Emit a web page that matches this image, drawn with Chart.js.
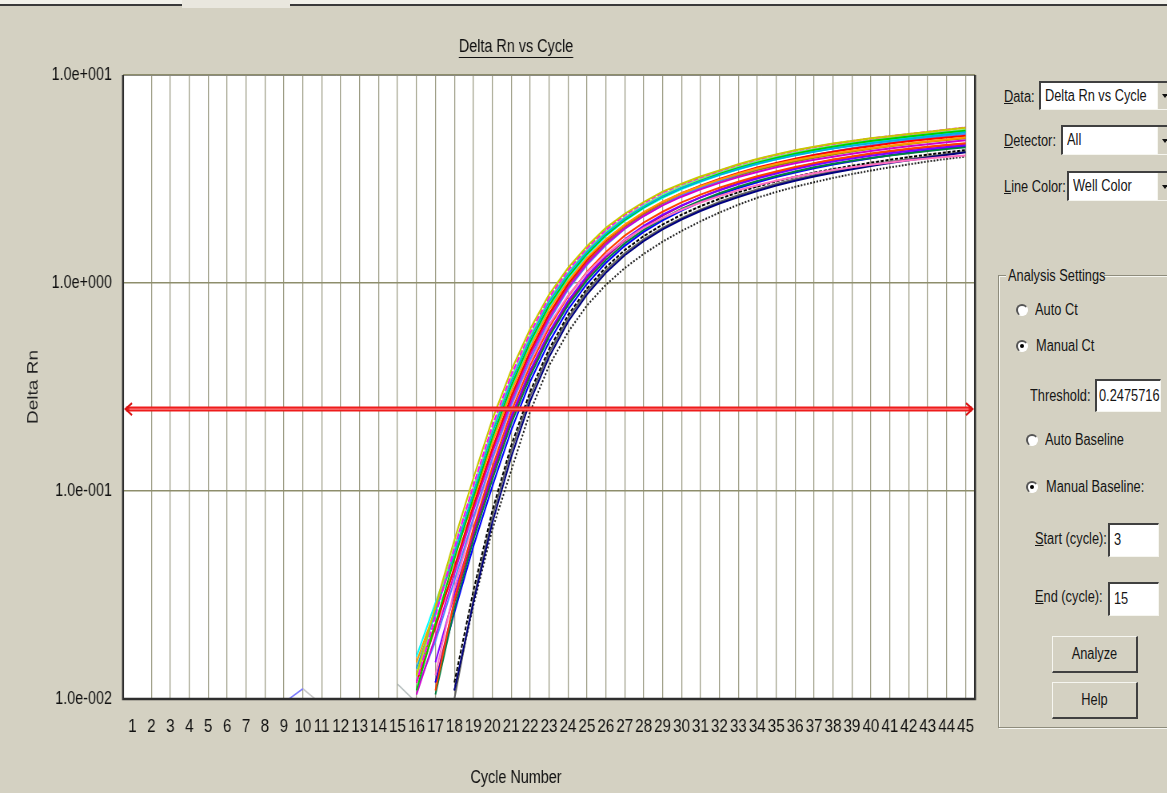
<!DOCTYPE html>
<html>
<head>
<meta charset="utf-8">
<title>Delta Rn vs Cycle</title>
<script src="https://cdn.jsdelivr.net/npm/chart.js@4.4.1/dist/chart.umd.min.js"></script>
<style>
    html, body { margin: 0; padding: 0; }
    body {
        width: 1167px; height: 793px; position: relative; overflow: hidden;
        background: #d4d1c2;
        font-family: "Liberation Sans", Arial, sans-serif;
        color: #151515;
    }
    #topbar { position: absolute; left: 0; top: 0; width: 1167px; height: 4px; background: #f2f1ea; border-bottom: 2px solid #3a3a3a; }
    #tab { position: absolute; left: 182px; top: 0; width: 108px; height: 8px; background: #e9e7de; }
    #chart { position: absolute; left: 0; top: 0; }
    .n { display: inline-block; transform: scaleX(0.8); transform-origin: 0 50%; }
    .txt { position: absolute; font-size: 16px; line-height: 18px; white-space: nowrap; }
    .txt u { text-decoration: underline; }
    .field {
        position: absolute; background: #fff; box-sizing: border-box; overflow: hidden;
        border-top: 2px solid #404040; border-left: 2px solid #404040;
        border-bottom: 1px solid #f6f6f0; border-right: 1px solid #f6f6f0;
        font-size: 16px; padding-left: 4px; white-space: nowrap;
    }
    .drop {
        position: absolute; left: 1157px; width: 14px; background: #d4d1c2;
        border-left: 1px solid #f6f6f0; box-sizing: border-box;
    }
    .drop::after {
        content: ""; position: absolute; left: 4px; top: 50%; margin-top: -2px;
        border-left: 3px solid transparent; border-right: 3px solid transparent; border-top: 4px solid #111;
    }
    .radio {
        position: absolute; width: 12px; height: 12px; border-radius: 50%; background: #fff; box-sizing: border-box;
        border-top: 2px solid #555; border-left: 2px solid #555; border-bottom: 1px solid #fff; border-right: 1px solid #fff;
    }
    .radio.on::after {
        content: ""; position: absolute; left: 2px; top: 2px; width: 4px; height: 4px; border-radius: 50%; background: #000;
    }
    #group {
        position: absolute; left: 998px; top: 275px; width: 200px; height: 453px; box-sizing: border-box;
        border: 1px solid #8e8c7c; box-shadow: inset 1px 1px 0 #f6f6f0, 1px 1px 0 #f6f6f0;
    }
    .btn {
        position: absolute; left: 1052px; width: 86px; height: 37px; box-sizing: border-box; text-align: center;
        border-top: 1px solid #f6f6f0; border-left: 1px solid #f6f6f0;
        border-bottom: 2px solid #404040; border-right: 2px solid #404040;
        font-size: 16px; line-height: 33px;
    }
    .btn .n { transform-origin: 50% 50%; }
</style>
</head>
<body>
<div id="topbar"></div>
<div id="tab"></div>
<!-- el lienzo se dibuja a 1238 px y se muestra comprimido a 990 px, como la captura original -->
<canvas id="chart" width="1238" height="793" style="width:990px; height:793px;"></canvas>

<!-- ====== PANEL DERECHO ====== -->
<div class="txt" style="left:1004px; top:88px;"><span class="n"><u>D</u>ata:</span></div>
<div class="field" style="left:1039px; top:81px; width:140px; height:29px; line-height:25px;"><span class="n">Delta Rn vs Cycle</span></div>
<div class="drop" style="top:83px; height:26px;"></div>

<div class="txt" style="left:1004px; top:132px;"><span class="n"><u>D</u>etector:</span></div>
<div class="field" style="left:1061px; top:125px; width:120px; height:30px; line-height:26px;"><span class="n">All</span></div>
<div class="drop" style="top:127px; height:27px;"></div>

<div class="txt" style="left:1004px; top:178px;"><span class="n"><u>L</u>ine Color:</span></div>
<div class="field" style="left:1067px; top:171px; width:120px; height:30px; line-height:26px;"><span class="n">Well Color</span></div>
<div class="drop" style="top:173px; height:27px;"></div>

<div id="group"></div>
<div class="txt" style="left:1006px; top:267px; width:98px; background:#d4d1c2;"><span class="n" style="margin-left:2px;">Analysis Settings</span></div>

<div class="radio" style="left:1016px; top:304px;"></div>
<div class="txt" style="left:1035px; top:301px;"><span class="n">Auto Ct</span></div>
<div class="radio on" style="left:1016px; top:340px;"></div>
<div class="txt" style="left:1036px; top:337px;"><span class="n">Manual Ct</span></div>

<div class="txt" style="left:1030px; top:387px;"><span class="n">Threshold:</span></div>
<div class="field" style="left:1095px; top:379px; width:66px; height:33px; line-height:29px; padding-left:2px;"><span class="n">0.2475716</span></div>

<div class="radio" style="left:1026px; top:434px;"></div>
<div class="txt" style="left:1045px; top:431px;"><span class="n">Auto Baseline</span></div>
<div class="radio on" style="left:1026px; top:481px;"></div>
<div class="txt" style="left:1046px; top:478px;"><span class="n">Manual Baseline:</span></div>

<div class="txt" style="left:1035px; top:530px;"><span class="n"><u>S</u>tart (cycle):</span></div>
<div class="field" style="left:1108px; top:523px; width:51px; height:34px; line-height:30px;"><span class="n">3</span></div>
<div class="txt" style="left:1035px; top:588px;"><span class="n"><u>E</u>nd (cycle):</span></div>
<div class="field" style="left:1108px; top:582px; width:51px; height:34px; line-height:30px;"><span class="n">15</span></div>

<div class="btn" style="top:636px;"><span class="n">Analyze</span></div>
<div class="btn" style="top:682px;"><span class="n">Help</span></div>

<script>
// ====== DATOS ======
const cycles = [1, 2, 3, 4, 5, 6, 7, 8, 9, 10, 11, 12, 13, 14, 15, 16, 17, 18, 19, 20, 21, 22, 23,
    24, 25, 26, 27, 28, 29, 30, 31, 32, 33, 34, 35, 36, 37, 38, 39, 40, 41, 42, 43, 44, 45];

const yTicks = [0.01, 0.1, 1, 10];
const yTickLabels = ["1.0e-002", "1.0e-001", "1.0e+000", "1.0e+001"];

const threshold = 0.2475716;

// valores de Delta Rn por pocillo, ciclos 16 a 45 (null = no dibujado)
const firstCycle = 16;
const well01 = [0.013, 0.028, 0.058, 0.115, 0.22, 0.38, 0.60, 0.88, 1.18, 1.50, 1.84, 2.15, 2.45, 2.75, 3.00,
    3.25, 3.48, 3.72, 3.95, 4.15, 4.35, 4.52, 4.68, 4.82, 4.96, 5.08, 5.20, 5.32, 5.45, 5.58];
const well02 = [0.012, 0.025, 0.053, 0.106, 0.205, 0.36, 0.575, 0.85, 1.15, 1.47, 1.80, 2.12, 2.42, 2.72, 2.98,
    3.22, 3.46, 3.70, 3.93, 4.13, 4.33, 4.50, 4.66, 4.81, 4.95, 5.08, 5.20, 5.33, 5.46, 5.60];
const well03 = [0.014, 0.026, 0.050, 0.098, 0.19, 0.335, 0.54, 0.81, 1.10, 1.41, 1.73, 2.04, 2.33, 2.61, 2.86,
    3.09, 3.31, 3.53, 3.74, 3.93, 4.11, 4.28, 4.43, 4.57, 4.70, 4.82, 4.94, 5.06, 5.18, 5.30];
const well04 = [0.011, 0.023, 0.047, 0.093, 0.18, 0.32, 0.52, 0.78, 1.07, 1.38, 1.70, 2.01, 2.31, 2.60, 2.86,
    3.10, 3.34, 3.57, 3.79, 3.99, 4.18, 4.36, 4.52, 4.67, 4.81, 4.94, 5.06, 5.18, 5.29, 5.40];
const well05 = [0.015, 0.027, 0.048, 0.09, 0.17, 0.30, 0.49, 0.74, 1.02, 1.32, 1.62, 1.91, 2.19, 2.46, 2.70,
    2.92, 3.14, 3.35, 3.55, 3.73, 3.90, 4.05, 4.19, 4.32, 4.45, 4.57, 4.68, 4.79, 4.90, 5.00];
const well06 = [0.012, 0.022, 0.043, 0.085, 0.16, 0.285, 0.47, 0.71, 0.99, 1.29, 1.60, 1.90, 2.18, 2.45, 2.70,
    2.94, 3.16, 3.38, 3.59, 3.78, 3.96, 4.13, 4.28, 4.42, 4.55, 4.68, 4.80, 4.91, 5.01, 5.10];
const well07 = [0.0105, 0.02, 0.04, 0.08, 0.152, 0.27, 0.45, 0.68, 0.95, 1.24, 1.54, 1.83, 2.10, 2.36, 2.60,
    2.82, 3.03, 3.23, 3.42, 3.60, 3.76, 3.91, 4.05, 4.18, 4.31, 4.43, 4.54, 4.65, 4.75, 4.85];
const well08 = [0.011, 0.019, 0.037, 0.074, 0.143, 0.26, 0.43, 0.66, 0.93, 1.22, 1.52, 1.82, 2.10, 2.37, 2.63,
    2.87, 3.10, 3.33, 3.55, 3.75, 3.94, 4.12, 4.29, 4.45, 4.60, 4.73, 4.86, 4.98, 5.09, 5.20];
const well09 = [null, 0.013, 0.034, 0.072, 0.14, 0.255, 0.42, 0.63, 0.87, 1.12, 1.37, 1.61, 1.84, 2.05, 2.25,
    2.44, 2.62, 2.79, 2.95, 3.10, 3.24, 3.37, 3.49, 3.60, 3.70, 3.80, 3.89, 3.97, 4.04, 4.10];
const well10 = [null, 0.011, 0.03, 0.066, 0.13, 0.24, 0.40, 0.61, 0.86, 1.13, 1.41, 1.69, 1.95, 2.20, 2.44,
    2.66, 2.87, 3.07, 3.26, 3.44, 3.61, 3.77, 3.92, 4.06, 4.19, 4.31, 4.42, 4.52, 4.61, 4.70];
const well11 = [null, 0.015, 0.032, 0.064, 0.124, 0.228, 0.38, 0.58, 0.82, 1.08, 1.35, 1.62, 1.88, 2.13, 2.36,
    2.58, 2.79, 2.99, 3.18, 3.36, 3.53, 3.69, 3.84, 3.97, 4.09, 4.20, 4.31, 4.41, 4.51, 4.60];
const well12 = [null, 0.0105, 0.027, 0.058, 0.113, 0.21, 0.355, 0.55, 0.78, 1.03, 1.29, 1.55, 1.80, 2.04, 2.27,
    2.49, 2.70, 2.90, 3.09, 3.27, 3.44, 3.60, 3.74, 3.87, 3.99, 4.10, 4.21, 4.31, 4.41, 4.50];
const well13 = [null, 0.012, 0.026, 0.054, 0.105, 0.195, 0.335, 0.52, 0.745, 0.99, 1.25, 1.51, 1.76, 2.00, 2.23,
    2.45, 2.66, 2.86, 3.05, 3.23, 3.40, 3.56, 3.71, 3.85, 3.98, 4.11, 4.23, 4.34, 4.45, 4.55];
const well14 = [null, null, 0.012, 0.033, 0.08, 0.165, 0.30, 0.48, 0.70, 0.94, 1.19, 1.44, 1.68, 1.91, 2.13,
    2.34, 2.54, 2.73, 2.91, 3.08, 3.24, 3.39, 3.53, 3.66, 3.79, 3.91, 4.03, 4.14, 4.25, 4.35];
const well15 = [null, null, 0.011, 0.029, 0.07, 0.145, 0.27, 0.44, 0.65, 0.88, 1.12, 1.36, 1.59, 1.81, 2.02,
    2.22, 2.41, 2.59, 2.77, 2.94, 3.10, 3.25, 3.39, 3.52, 3.65, 3.77, 3.89, 4.01, 4.13, 4.25];
const well16 = [null, null, 0.011, 0.028, 0.065, 0.125, 0.24, 0.40, 0.58, 0.78, 0.98, 1.18, 1.38, 1.58, 1.78,
    1.98, 2.18, 2.38, 2.57, 2.74, 2.90, 3.05, 3.20, 3.34, 3.47, 3.60, 3.72, 3.84, 3.95, 4.05];
const well17 = [0.0125, 0.027, 0.054, 0.104, 0.198, 0.35, 0.56, 0.83, 1.12, 1.44, 1.76, 2.07, 2.37, 2.66, 2.92,
    3.17, 3.40, 3.63, 3.85, 4.05, 4.24, 4.41, 4.57, 4.72, 4.86, 4.99, 5.11, 5.23, 5.34, 5.45];
const well18 = [0.016, 0.029, 0.051, 0.094, 0.176, 0.31, 0.505, 0.76, 1.05, 1.36, 1.68, 1.99, 2.29, 2.57, 2.83,
    3.07, 3.30, 3.52, 3.73, 3.93, 4.12, 4.29, 4.45, 4.60, 4.74, 4.87, 4.99, 5.11, 5.22, 5.33];
const well19 = [0.013, 0.023, 0.042, 0.082, 0.156, 0.278, 0.46, 0.70, 0.97, 1.26, 1.56, 1.85, 2.13, 2.39, 2.63,
    2.86, 3.08, 3.29, 3.49, 3.67, 3.84, 4.00, 4.15, 4.29, 4.42, 4.54, 4.66, 4.77, 4.87, 4.97];
const well20 = [null, 0.012, 0.029, 0.061, 0.119, 0.22, 0.37, 0.565, 0.80, 1.06, 1.33, 1.60, 1.86, 2.11, 2.35,
    2.58, 2.80, 3.01, 3.21, 3.40, 3.58, 3.75, 3.90, 4.04, 4.17, 4.29, 4.40, 4.50, 4.59, 4.67];
const well21 = [null, null, 0.010, 0.030, 0.075, 0.155, 0.285, 0.46, 0.675, 0.91, 1.15, 1.39, 1.62, 1.84, 2.05,
    2.25, 2.45, 2.64, 2.82, 2.99, 3.15, 3.30, 3.44, 3.57, 3.70, 3.82, 3.94, 4.05, 4.16, 4.27];

// pequeños trazos de ruido de línea base cerca de 0.01
const noiseACycles = [9, 10];
const noiseA = [0.0096, 0.0112];
const noiseBCycles = [10, 11];
const noiseB = [0.0112, 0.0094];
const noiseCCycles = [15, 16];
const noiseC = [0.0118, 0.0096];

// ====== ESTILOS ======
const wellColors = ["#c8c800", "#ff00ff", "#00b0e0", "#00d000", "#ff9900", "#ff0000", "#d000d0",
    "#5080ff", "#ff70c0", "#ff4000", "#8000ff", "#008040", "#0000ff", "#000000", "#000080",
    "#202020", "#80f080", "#00ffff", "#909000", "#c00060", "#606060"];
const wellDash = { 1: [6, 2], 13: [4, 2], 15: [2, 2] };

// el lienzo interno es 1238 px de ancho y se muestra a 990 px
const sx = v => v * 1238 / 990;
const sans = '"Liberation Sans", Arial, sans-serif';

const wells = [well01, well02, well03, well04, well05, well06, well07, well08, well09, well10, well11,
    well12, well13, well14, well15, well16, well17, well18, well19, well20, well21];

const datasets = wells.map((vals, i) => ({
    data: vals.map((v, j) => ({ x: firstCycle + j, y: v })),
    borderColor: wellColors[i],
    borderWidth: 2,
    borderDash: wellDash[i] || [],
    pointRadius: 0,
    tension: 0,
    fill: false
}));

function noiseSet(xs, ys, color) {
    return {
        data: xs.map((c, j) => ({ x: c, y: ys[j] })),
        borderColor: color, borderWidth: 1.6, pointRadius: 0, fill: false
    };
}
datasets.push(noiseSet(noiseACycles, noiseA, "#7b7bff"));
datasets.push(noiseSet(noiseBCycles, noiseB, "#c8c8c8"));
datasets.push(noiseSet(noiseCCycles, noiseC, "#b8c0c0"));

// ====== PLUGINS ======
const plotBackground = {
    id: "plotBackground",
    beforeDraw(chart) {
        const { ctx, chartArea: a } = chart;
        ctx.save();
        ctx.fillStyle = "#ffffff";
        ctx.fillRect(a.left, a.top, a.right - a.left, a.bottom - a.top);
        ctx.restore();
    }
};

const thresholdLine = {
    id: "thresholdLine",
    afterDatasetsDraw(chart) {
        const { ctx, chartArea: a } = chart;
        const y = chart.scales.y.getPixelForValue(threshold);
        ctx.save();
        ctx.strokeStyle = "#ee1c1c";
        ctx.lineWidth = 5;
        ctx.beginPath();
        ctx.moveTo(a.left + 4, y);
        ctx.lineTo(a.right - 4, y);
        ctx.stroke();
        ctx.strokeStyle = "#ff9a9a";
        ctx.lineWidth = 1;
        ctx.beginPath();
        ctx.moveTo(a.left + 8, y);
        ctx.lineTo(a.right - 8, y);
        ctx.stroke();
        // flechas
        ctx.strokeStyle = "#d81010";
        ctx.lineWidth = 2;
        ctx.beginPath();
        ctx.moveTo(a.left + sx(9), y - 6);
        ctx.lineTo(a.left + 3, y);
        ctx.lineTo(a.left + sx(9), y + 6);
        ctx.moveTo(a.right - sx(9), y - 6);
        ctx.lineTo(a.right - 3, y);
        ctx.lineTo(a.right - sx(9), y + 6);
        ctx.stroke();
        ctx.restore();
    }
};

const frameAndTitles = {
    id: "frameAndTitles",
    afterDraw(chart) {
        const { ctx, chartArea: a } = chart;
        ctx.save();
        ctx.strokeStyle = "#8a8a80";
        ctx.lineWidth = 1;
        ctx.beginPath();
        ctx.moveTo(a.left, a.top + 0.5);
        ctx.lineTo(a.right, a.top + 0.5);
        ctx.stroke();
        ctx.strokeStyle = "#2e2e2e";
        ctx.lineWidth = 2.5;
        ctx.beginPath();
        ctx.moveTo(a.left, a.top);
        ctx.lineTo(a.left, a.bottom);
        ctx.lineTo(a.right, a.bottom);
        ctx.lineTo(a.right, a.top);
        ctx.stroke();

        // título subrayado
        ctx.fillStyle = "#111";
        ctx.font = "18px " + sans;
        ctx.textAlign = "center";
        ctx.textBaseline = "middle";
        const title = "Delta Rn vs Cycle";
        const cx = sx(516), ty = 47;
        ctx.fillText(title, cx, ty);
        const w = ctx.measureText(title).width;
        ctx.lineWidth = 1;
        ctx.strokeStyle = "#111";
        ctx.beginPath();
        ctx.moveTo(cx - w / 2, ty + 10.5);
        ctx.lineTo(cx + w / 2, ty + 10.5);
        ctx.stroke();

        // título del eje X
        ctx.fillText("Cycle Number", sx(516), 778);
        ctx.restore();
    }
};

// ====== GRÁFICO ======
document.addEventListener("DOMContentLoaded", () => {
    new Chart(document.getElementById("chart"), {
        type: "line",
        data: { datasets },
        options: {
            responsive: false,
            animation: false,
            devicePixelRatio: 1,
            layout: { padding: { top: 75, right: 1238 - sx(975), left: 0, bottom: 0 } },
            plugins: {
                legend: { display: false },
                tooltip: { enabled: false },
                title: { display: false }
            },
            scales: {
                x: {
                    type: "linear",
                    min: 0.5,
                    max: 45.5,
                    afterFit: s => { s.height = 94; },
                    afterBuildTicks: s => { s.ticks = cycles.map(c => ({ value: c })); },
                    ticks: {
                        autoSkip: false,
                        maxRotation: 0,
                        padding: 16,
                        color: "#111",
                        font: { family: sans, size: 19 },
                        callback: v => String(v)
                    },
                    grid: {
                        drawTicks: false,
                        lineWidth: 1.25,
                        color: c => (c.tick && c.tick.value === 1) ? "rgba(0,0,0,0)" : "#9c9c84"
                    },
                    border: { display: false }
                },
                y: {
                    type: "logarithmic",
                    min: 0.01,
                    max: 10,
                    afterFit: s => { s.width = sx(123); },
                    afterBuildTicks: s => { s.ticks = yTicks.map(v => ({ value: v })); },
                    ticks: {
                        padding: sx(11),
                        color: "#111",
                        font: { family: sans, size: 18 },
                        callback: v => yTickLabels[yTicks.indexOf(v)]
                    },
                    grid: { drawTicks: false, lineWidth: 1.5, color: "#8e8e6c" },
                    border: { display: false },
                    title: {
                        display: true,
                        text: "Delta Rn",
                        color: "#222",
                        font: { family: sans, size: 19 },
                        padding: { top: 30, bottom: 0 }
                    }
                }
            }
        },
        plugins: [plotBackground, thresholdLine, frameAndTitles]
    });
});
</script>
</body>
</html>
